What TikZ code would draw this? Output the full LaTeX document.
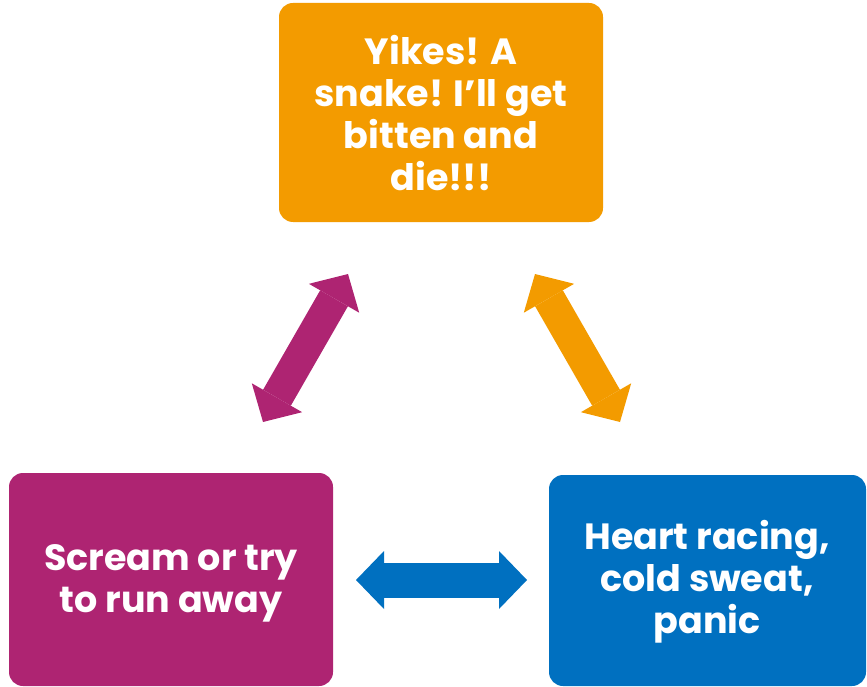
\documentclass[tikz,border=0pt]{standalone}
\usepackage{fontspec}
\setmainfont{Poppins}
\usetikzlibrary{arrows.meta}
\definecolor{cOrange}{RGB}{243,155,0}
\definecolor{cMagenta}{RGB}{174,36,114}
\definecolor{cBlue}{RGB}{0,112,192}
\tikzset{
  boxstyle/.style={rounded corners=14pt, inner sep=0pt, text=white, align=center,
    font=\fontsize{36.5}{42}\selectfont\bfseries},
  dblarrow/.style={line width=32pt,
    {Triangle[length=28pt,width=58pt,line width=0pt]}-{Triangle[length=28pt,width=58pt,line width=0pt]}},
}
\begin{document}
\begin{tikzpicture}[x=1pt,y=-1pt]
\useasboundingbox (0,0) rectangle (867,687);
\fill[cOrange, rounded corners=14pt] (279,3) rectangle (603,222);
\node[boxstyle] (top) at (441,113) {Yikes! A\\snake! I’ll get\\bitten and\\die!!!};
\fill[cMagenta, rounded corners=14pt] (9,473) rectangle (333,686);
\node[boxstyle] (left) at (171,583) {Scream or try\\to run away};
\fill[cBlue, rounded corners=14pt] (549,475) rectangle (866,686);
\node[boxstyle] (right) at (707,582) {Heart racing,\\cold sweat,\\panic};
\coordinate (m1) at (263,422);
\coordinate (m2) at (348,274);
\coordinate (o1) at (535,274);
\coordinate (o2) at (620,422);
\coordinate (b1) at (356,580);
\coordinate (b2) at (527,580);
\draw[dblarrow, cMagenta] (m1) -- (m2);
\draw[dblarrow, cOrange] (o1) -- (o2);
\draw[dblarrow, cBlue, line width=35pt] (b1) -- (b2);
\end{tikzpicture}
\end{document}
